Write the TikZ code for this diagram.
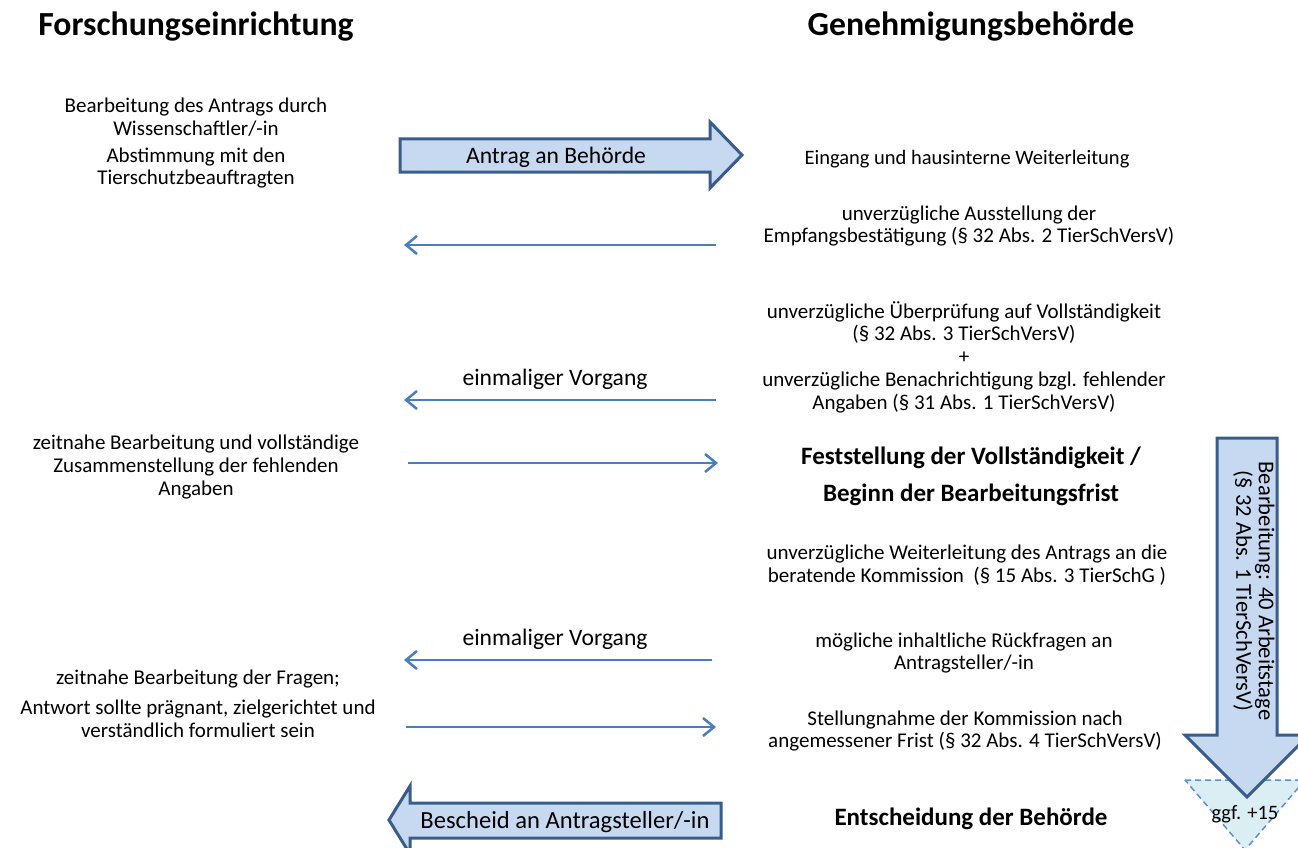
\documentclass[tikz,border=0pt]{standalone}
\usepackage{fontspec}
\setmainfont{Carlito}
\usetikzlibrary{arrows.meta}
\definecolor{bigfill}{HTML}{C6D9F1}
\definecolor{bigline}{HTML}{385D8A}
\definecolor{thinline}{HTML}{4A7EBB}
\definecolor{trifill}{HTML}{DAEEF3}
\definecolor{triline}{HTML}{5B8FD6}
\begin{document}
\begin{tikzpicture}[x=1pt,y=-1pt,
  txt/.style={font=\fontsize{21}{22.7}\selectfont, align=center, inner sep=0pt},
  mid/.style={font=\fontsize{23.6}{26}\selectfont, align=center, inner sep=0pt},
  hdg/.style={font=\bfseries\fontsize{33.7}{38}\selectfont, inner sep=0pt},
  bold/.style={font=\bfseries\fontsize{25}{37}\selectfont, align=center, inner sep=0pt},
  bigarrow/.style={fill=bigfill, draw=bigline, line width=3pt, line join=miter},
  thin/.style={draw=thinline, line width=2.5pt, -{Straight Barb[length=11pt,width=18pt,line width=2.5pt]}},
  tri/.style={fill=trifill, draw=triline, line width=1.5pt, dash pattern=on 6pt off 4pt}
]
\useasboundingbox (0,0) rectangle (1298,848);

% headings
\node[hdg] (hL) at (196,27) {Forschungseinrichtung};
\node[hdg] (hR) at (971,27) {Genehmigungsbehörde};

% left column
\node[txt] (l1) at (196,117) {Bearbeitung des Antrags durch\\Wissenschaftler/-in};
\node[txt] (l2) at (196,168) {Abstimmung mit den\\Tierschutzbeauftragten};
\node[txt] (l3) at (196,467) {zeitnahe Bearbeitung und vollständige\\Zusammenstellung der fehlenden\\Angaben};
\node[txt] (l4) at (198,679) {zeitnahe Bearbeitung der Fragen;};
\node[txt] (l5) at (198,719) {Antwort sollte prägnant, zielgerichtet und\\verständlich formuliert sein};

% right column
\node[txt, font=\fontsize{20.5}{22.7}\selectfont] (r1) at (967,159) {Eingang und hausinterne Weiterleitung};
\node[txt] (r2) at (969,226) {unverzügliche Ausstellung der\\Empfangsbestätigung (§ 32 Abs. 2 TierSchVersV)};
\node[txt] (r3) at (964,357) {unverzügliche Überprüfung auf Vollständigkeit\\(§ 32 Abs. 3 TierSchVersV)\\+\\unverzügliche Benachrichtigung bzgl. fehlender\\Angaben (§ 31 Abs. 1 TierSchVersV)};
\node[bold] (r4) at (971,476) {Feststellung der Vollständigkeit /\\Beginn der Bearbeitungsfrist};
\node[txt] (r5) at (967,565) {unverzügliche Weiterleitung des Antrags an die\\beratende Kommission~~(§ 15 Abs. 3 TierSchG )};
\node[txt] (r6) at (964,653) {mögliche inhaltliche Rückfragen an\\Antragsteller/-in};
\node[txt] (r7) at (965,731) {Stellungnahme der Kommission nach\\angemessener Frist (§ 32 Abs. 4 TierSchVersV)};
\node[bold] (r8) at (971,819) {Entscheidung der Behörde};

% middle labels
\node[mid] (m1) at (555,379) {einmaliger Vorgang};
\node[mid] (m2) at (555,639) {einmaliger Vorgang};

% thin connectors
\coordinate (a2s) at (716,245); \coordinate (a2e) at (404,245);
\coordinate (a3s) at (716,400); \coordinate (a3e) at (404,400);
\coordinate (a4s) at (408,463); \coordinate (a4e) at (718,463);
\coordinate (a5s) at (712,660); \coordinate (a5e) at (404,660);
\coordinate (a6s) at (406,727); \coordinate (a6e) at (716,727);
\draw[thin] (a2s) -- (a2e);
\draw[thin] (a3s) -- (a3e);
\draw[thin] (a4s) -- (a4e);
\draw[thin] (a5s) -- (a5e);
\draw[thin] (a6s) -- (a6e);

% big arrow: Antrag an Behoerde
\draw[bigarrow] (400,139) -- (710,139) -- (710,122) -- (742,155) -- (710,188) -- (710,172) -- (400,172) -- cycle;
\node[mid, font=\fontsize{23.6}{26}\selectfont] (ab) at (556,157) {Antrag an Behörde};

% big arrow: Bescheid
\draw[bigarrow] (721,803) -- (410,803) -- (410,786) -- (389,820) -- (410,854) -- (410,838) -- (721,838) -- cycle;
\node[mid, font=\fontsize{24.6}{27}\selectfont] (bs) at (565,822) {Bescheid an Antragsteller/-in};

% triangle ggf. +15
\draw[tri] (1185,780) -- (1305,780) -- (1245,850) -- cycle;

% vertical arrow
\draw[bigarrow] (1217,438) -- (1277,438) -- (1277,735) -- (1309,735) -- (1247,797) -- (1185,735) -- (1217,735) -- cycle;
\node[txt, rotate=-90, font=\fontsize{22.6}{22.5}\selectfont] (va) at (1254,591) {Bearbeitung: 40 Arbeitstage\\(§ 32 Abs. 1 TierSchVersV)};
\node[txt, font=\fontsize{20.5}{22}\selectfont] (gg) at (1245,814) {ggf. +15};
\end{tikzpicture}
\end{document}
